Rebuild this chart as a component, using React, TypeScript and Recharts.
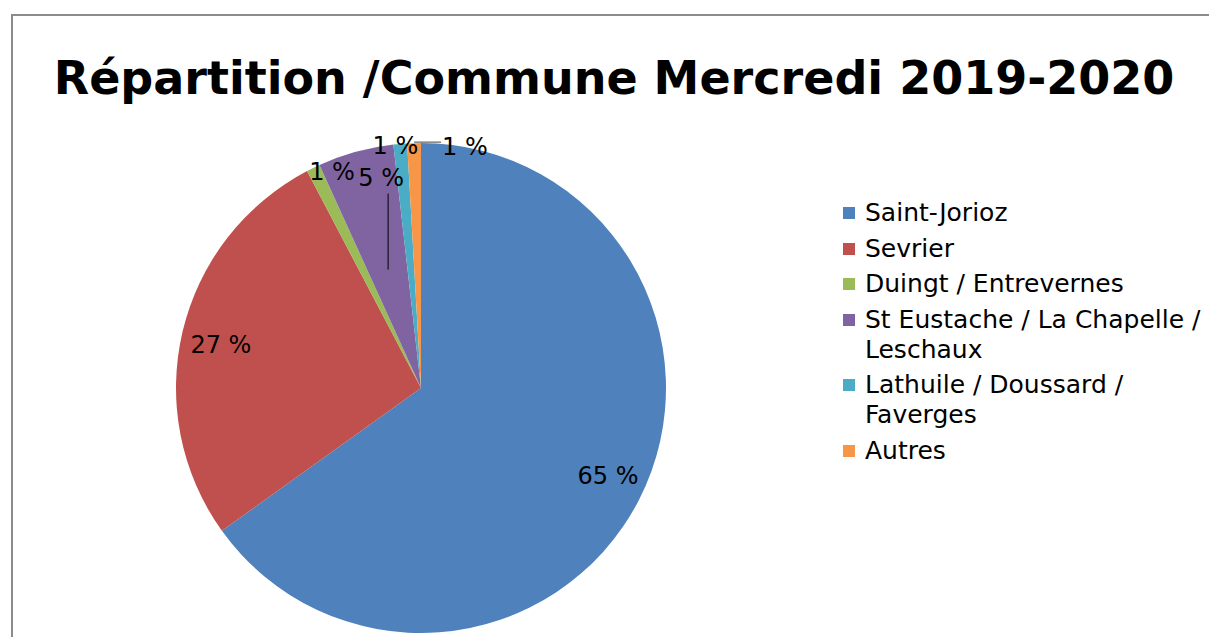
import { PieChart, Pie, Cell, Legend } from 'recharts';

// Répartition des enfants par commune, mercredis 2019-2020 (en %)
const communes = [
  'Saint-Jorioz',
  'Sevrier',
  'Duingt / Entrevernes',
  'St Eustache / La Chapelle / Leschaux',
  'Lathuile / Doussard / Faverges',
  'Autres',
];
const parts = [65.1, 27.2, 0.9, 5.0, 0.9, 0.9];
const colors = ['#4F81BD', '#C0504D', '#9BBB59', '#8064A2', '#4BACC6', '#F79646'];

const data = communes.map((name, i) => ({ name, value: parts[i] }));

// label placement per slice: radius factor + small nudges, optional leader line
const labelSpots: any[] = [
  { rf: 0.84, dx: 4, dy: -6 },
  { rf: 0.835, dx: -1, dy: 4 },
  { rf: 0.955, dx: 14, dy: -6 },
  { rf: 0.87, dx: 17, dy: -5, vline: { x: 7, y1: 16, y2: 92 } },
  { rf: 0.99, dx: -5, dy: 0 },
  { rf: 1, dx: 28, dy: 4, hline: 27, anchor: 'start' },
];

const RADIAN = Math.PI / 180;

const renderLabel = (props: any) => {
  const { cx, cy, midAngle, outerRadius, percent, index } = props;
  const spot = labelSpots[index];
  const r = outerRadius * spot.rf;
  const px = cx + r * Math.cos(-midAngle * RADIAN);
  const py = cy + r * Math.sin(-midAngle * RADIAN);
  const x = px + spot.dx;
  const y = py + spot.dy;
  return (
    <g key={`lbl-${index}`}>
      {spot.vline && (
        <line
          x1={x + spot.vline.x}
          x2={x + spot.vline.x}
          y1={y + spot.vline.y1}
          y2={y + spot.vline.y2}
          stroke="#000"
          strokeWidth={1}
        />
      )}
      {spot.hline && (
        <line
          x1={px}
          x2={px + spot.hline}
          y1={py - 1}
          y2={py - 1}
          stroke="#404040"
          strokeWidth={1}
        />
      )}
      <text
        x={x}
        y={y}
        fill="#000"
        fontSize={24}
        fontFamily="DejaVu Sans"
        textAnchor={spot.anchor || 'middle'}
        dominantBaseline="central"
      >
        {Math.round(percent * 100)} %
      </text>
    </g>
  );
};

const renderLegend = () => (
  <div style={{ fontFamily: 'DejaVu Sans', fontSize: 25, color: '#000', width: 362 }}>
    {data.map((d, i) => (
      <div key={d.name} style={{ display: 'flex', alignItems: 'flex-start', marginBottom: 5.5 }}>
        <div
          style={{
            width: 12,
            height: 12,
            background: colors[i],
            marginTop: 9,
            marginRight: 10,
            flexShrink: 0,
          }}
        />
        <div style={{ lineHeight: '30px' }}>{d.name}</div>
      </div>
    ))}
  </div>
);

const App = () => {
  return (
    <div
      style={{
        position: 'absolute',
        left: 0,
        top: 0,
        width: 1209,
        height: 637,
        overflow: 'hidden',
        background: '#fff',
      }}
    >
      <div
        style={{
          position: 'absolute',
          left: 11,
          top: 14,
          width: 1400,
          height: 800,
          border: '2px solid #8c8c8c',
        }}
      />
      <div
        style={{
          position: 'absolute',
          left: 0,
          top: 49,
          width: 1228,
          textAlign: 'center',
          fontFamily: 'DejaVu Sans',
          fontWeight: 'bold',
          fontSize: 46,
          lineHeight: '58px',
          color: '#000',
        }}
      >
        Répartition /Commune Mercredi 2019-2020
      </div>
      <div style={{ position: 'absolute', left: 0, top: 0 }}>
        <PieChart width={1209} height={637} margin={{ top: 0, right: 0, bottom: 0, left: 0 }}>
          <Pie
            data={data}
            dataKey="value"
            nameKey="name"
            cx={421}
            cy={388}
            outerRadius={245}
            startAngle={90}
            endAngle={-270}
            stroke="none"
            label={renderLabel}
            labelLine={false}
            isAnimationActive={false}
          >
            {data.map((d, i) => (
              <Cell key={d.name} fill={colors[i]} />
            ))}
          </Pie>
          <Legend
            content={renderLegend}
            layout="vertical"
            wrapperStyle={{ position: 'absolute', left: 843, top: 198, width: 366 }}
          />
        </PieChart>
      </div>
    </div>
  );
};

export default App;
